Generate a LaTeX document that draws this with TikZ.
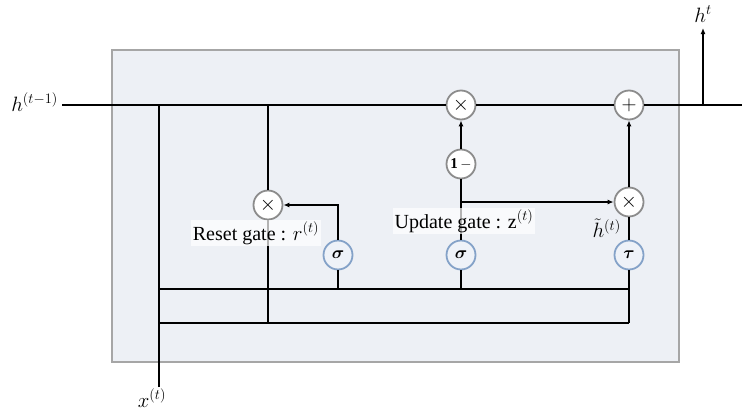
\documentclass[tikz,border=0pt]{standalone}
\usepackage{amsmath}
\usepackage{fontspec}
\setmainfont{Liberation Serif}
\usetikzlibrary{arrows.meta}
\definecolor{boxfill}{HTML}{EDF0F5}
\definecolor{boxedge}{HTML}{A6A6A6}
\definecolor{opedge}{HTML}{8C8C8C}
\definecolor{actedge}{HTML}{84A2C8}
\definecolor{actfill}{HTML}{EEF2F8}
\tikzset{
  op/.style={circle, draw=opedge, line width=1.8pt, fill=white, minimum size=29pt, inner sep=0pt, font=\fontsize{22}{22}\selectfont},
  act/.style={circle, draw=actedge, line width=1.8pt, fill=actfill, minimum size=29pt, inner sep=0pt, font=\fontsize{19}{19}\selectfont},
  wire/.style={line width=1.7pt, black},
  arr/.style={wire, -{Latex[length=6pt,width=5pt]}},
  lbl/.style={font=\fontsize{20}{22}\selectfont, inner sep=1pt},
  gatelbl/.style={lbl, fill=white, fill opacity=0.7, text opacity=1, inner sep=2pt},
}
\begin{document}
\begin{tikzpicture}[x=1pt,y=-1pt]
\useasboundingbox (0,0) rectangle (742,410);
\node[draw=boxedge, fill=boxfill, line width=2pt, minimum width=567pt, minimum height=312pt, inner sep=0pt] (cell) at (395.5,206) {};
% operator nodes
\node[op] (mr) at (268,205) {$\times$};
\node[act] (sr) at (338,255) {$\boldsymbol{\sigma}$};
\node[op] (mz) at (461,105) {$\times$};
\node[op, font=\fontsize{15}{15}\selectfont] (om) at (461,164) {$\mathbf{1}\,{-}$};
\node[act] (sz) at (461,255) {$\boldsymbol{\sigma}$};
\node[op] (mh) at (629,202) {$\times$};
\node[op] (pl) at (629,105) {$+$};
\node[act] (tau) at (629,255) {$\boldsymbol{\tau}$};
% coordinates
\coordinate (lin) at (62,105);
\coordinate (rout) at (742,105);
\coordinate (xb) at (159,387);
\coordinate (xt) at (159,105);
\coordinate (rt) at (268,105);
\coordinate (rb) at (268,323);
\coordinate (srb) at (338,289);
\coordinate (szb) at (461,289);
\coordinate (zb) at (461,202);
\coordinate (ub0) at (159,289);
\coordinate (ub1) at (629,289);
\coordinate (lb0) at (159,323);
\coordinate (lb1) at (629,323);
\coordinate (hto) at (703,105);
\coordinate (htt) at (703,28);
% wires
\draw[wire] (lin) -- (mz);
\draw[wire] (mz) -- (pl);
\draw[wire] (pl) -- (rout);
\draw[wire] (xb) -- (xt);
\draw[wire] (rt) -- (mr);
\draw[wire] (mr) -- (rb);
\draw[arr] (sr) |- (mr);
\draw[wire] (sr) -- (srb);
\draw[wire] (sz) -- (om);
\draw[arr] (om) -- (mz);
\draw[arr] (zb) -- (mh);
\draw[wire] (sz) -- (szb);
\draw[wire] (tau) -- (mh);
\draw[arr] (mh) -- (pl);
\draw[wire] (tau) -- (lb1);
\draw[wire] (ub0) -- (ub1);
\draw[wire] (lb0) -- (lb1);
\draw[arr] (hto) -- (htt);
% labels
\node[lbl, anchor=east] (hin) at (59,102) {$h^{(t-1)}$};
\node[lbl] (hout) at (703,14) {$h^{t}$};
\node[lbl] (xin) at (152,398) {$x^{(t)}$};
\node[gatelbl] (rlab) at (256,233) {Reset gate : $r^{(t)}$};
\node[gatelbl] (zlab) at (464,221) {Update gate : z$^{(t)}$};
\node[lbl, anchor=east, inner sep=0pt] (htl) at (621,228) {$\tilde{h}^{(t)}$};
\end{tikzpicture}
\end{document}
